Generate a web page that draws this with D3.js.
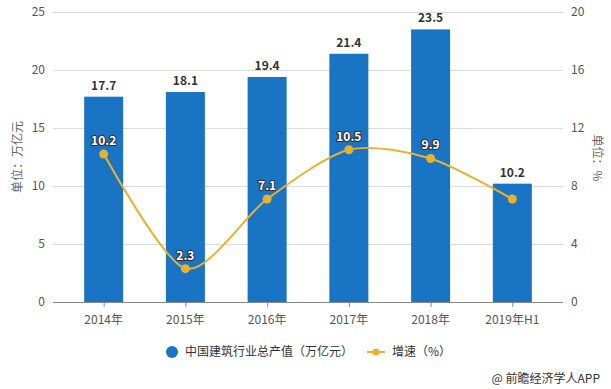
<!DOCTYPE html>
<html><head><meta charset="utf-8">
<script src="https://cdn.jsdelivr.net/npm/d3@7"></script>
<style>body{margin:0;background:#fff}svg{font-family:"Noto Sans CJK SC","Noto Sans",sans-serif}</style>
</head><body><svg id="c" width="611" height="389"></svg>
<script>
const categories = ["2014年","2015年","2016年","2017年","2018年","2019年H1"];
const outputValues = [17.7,18.1,19.4,21.4,23.5,10.2];
const growthValues = [10.2,2.3,7.1,10.5,9.9,7.1];
const growthLabels = ["10.2","2.3","7.1","10.5","9.9",""];
const leftTicks = [0,5,10,15,20,25];
const rightTicks = [0,4,8,12,16,20];

const svg = d3.select("#c");
const L = 53, R = 563, T = 12, B = 302;
const x = d3.scalePoint().domain(categories).range([L,R]).padding(0.62);
const yL = d3.scaleLinear().domain([0,25]).range([B,T]);
const yR = d3.scaleLinear().domain([0,20]).range([B,T]);
const barColor = "#1a74c4", lineColor = "#eab12f";

// grid
svg.append("g").selectAll("line").data(leftTicks.slice(1)).join("line")
  .attr("x1",L).attr("x2",R).attr("y1",d=>yL(d)+0.5).attr("y2",d=>yL(d)+0.5)
  .attr("stroke","#dcdcdc").attr("stroke-width",1);

// left axis labels
svg.append("g").selectAll("text").data(leftTicks).join("text")
  .attr("x",L-8).attr("y",d=>yL(d)).attr("dy","0.35em").attr("text-anchor","end")
  .attr("font-size",12).attr("fill","#555").text(d=>d);
// right axis labels
svg.append("g").selectAll("text").data(rightTicks).join("text")
  .attr("x",R+8).attr("y",d=>yR(d)).attr("dy","0.35em").attr("text-anchor","start")
  .attr("font-size",12).attr("fill","#555").text(d=>d);

// bars
const bw = 39;
svg.append("g").selectAll("rect").data(outputValues).join("rect")
  .attr("x",(d,i)=>x(categories[i])-bw/2).attr("width",bw)
  .attr("y",d=>yL(d)).attr("height",d=>B-yL(d)).attr("fill",barColor);

// x axis
svg.append("line").attr("x1",L).attr("x2",R).attr("y1",B+0.5).attr("y2",B+0.5).attr("stroke","#888");
svg.append("g").selectAll("line").data(categories).join("line")
  .attr("x1",d=>x(d)+0.5).attr("x2",d=>x(d)+0.5).attr("y1",B).attr("y2",B+5).attr("stroke","#888");
svg.append("g").selectAll("text").data(categories).join("text")
  .attr("x",d=>x(d)).attr("y",B+22).attr("text-anchor","middle")
  .attr("font-size",12).attr("fill","#555").text(d=>d);

// bar labels
svg.append("g").selectAll("text").data(outputValues).join("text")
  .attr("x",(d,i)=>x(categories[i])).attr("y",d=>yL(d)-7).attr("text-anchor","middle")
  .attr("font-size",12).attr("font-weight","bold").attr("fill","#333").text(d=>d.toFixed(1));

// line
const line = d3.line().x((d,i)=>x(categories[i])).y(d=>yR(d)).curve(d3.curveCardinal.tension(0.2));
svg.append("path").datum(growthValues).attr("d",line).attr("fill","none")
  .attr("stroke",lineColor).attr("stroke-width",2);
svg.append("g").selectAll("circle").data(growthValues).join("circle")
  .attr("cx",(d,i)=>x(categories[i])).attr("cy",d=>yR(d)).attr("r",4.5).attr("fill",lineColor);
svg.append("g").selectAll("text").data(growthValues).join("text")
  .attr("x",(d,i)=>x(categories[i])).attr("y",d=>yR(d)-9).attr("text-anchor","middle")
  .attr("font-size",12).attr("font-weight","bold").attr("fill","#fff")
  .attr("stroke","#333").attr("stroke-width",2.2).attr("paint-order","stroke").attr("stroke-linejoin","round")
  .text((d,i)=>growthLabels[i]);

// axis titles
svg.append("text").attr("transform","translate(22,157) rotate(-90)").attr("text-anchor","middle")
  .attr("font-size",12).attr("fill","#666").text("单位：万亿元");
svg.append("text").attr("transform","translate(593,158) rotate(90)").attr("text-anchor","middle")
  .attr("font-size",12).attr("fill","#666").text("单位：%");

// legend
svg.append("circle").attr("cx",172).attr("cy",352).attr("r",6).attr("fill",barColor);
svg.append("text").attr("x",185).attr("y",356).attr("font-size",12).attr("fill","#333").text("中国建筑行业总产值（万亿元）");
svg.append("line").attr("x1",367).attr("x2",385).attr("y1",352).attr("y2",352).attr("stroke",lineColor).attr("stroke-width",2);
svg.append("circle").attr("cx",376).attr("cy",352).attr("r",3.5).attr("fill",lineColor);
svg.append("text").attr("x",392).attr("y",356).attr("font-size",12).attr("fill","#333").text("增速（%）");

// footer
svg.append("text").attr("x",600).attr("y",383).attr("text-anchor","end").attr("font-size",12).attr("fill","#333").text("@ 前瞻经济学人APP");
</script></body></html>
